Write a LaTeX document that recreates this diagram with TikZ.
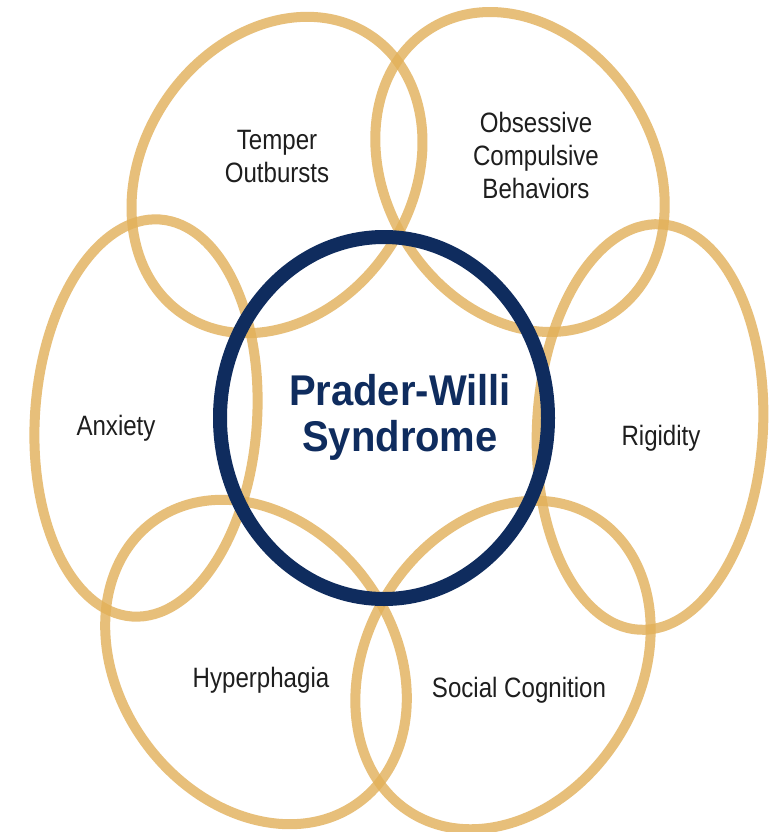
\documentclass[tikz,border=0pt]{standalone}
\usepackage{fontspec}
\setmainfont{Liberation Sans}
\newfontfamily\lblfont[FakeStretch=0.86]{Liberation Sans}
\newfontfamily\titlefont[FakeStretch=0.93]{Liberation Sans}
\definecolor{gold}{HTML}{E2B059}
\definecolor{navy}{HTML}{0F2C5E}
\definecolor{txt}{HTML}{1E1E1E}
\tikzset{
  ring/.style={draw=gold, line width=10pt, draw opacity=0.8},
  core/.style={draw=navy, line width=14pt},
  lbl/.style={font=\lblfont\fontsize{28}{33}\selectfont, text=txt, align=center, inner sep=0pt},
  ttl/.style={font=\titlefont\bfseries\fontsize{43}{46}\selectfont, text=navy, align=center, inner sep=0pt}
}
\begin{document}
\begin{tikzpicture}[x=1pt,y=-1pt]
\useasboundingbox[fill=white] (0,0) rectangle (774,832);
% gold ellipses
\draw[ring, rotate around={-34:(277,175)}] (277,175) ellipse [x radius=134pt, y radius=168pt];
\draw[ring, rotate around={32:(520,172)}] (520,172) ellipse [x radius=134pt, y radius=169pt];
\draw[ring, rotate around={-4:(146,418)}] (146,418) ellipse [x radius=111pt, y radius=199pt];
\draw[ring, rotate around={-3:(650,427)}] (650,427) ellipse [x radius=113pt, y radius=203pt];
\draw[ring, rotate around={36:(256,662)}] (256,662) ellipse [x radius=137pt, y radius=174pt];
\draw[ring, rotate around={-32:(503,665)}] (503,665) ellipse [x radius=136pt, y radius=174pt];
% central
\draw[core] (384,418) ellipse [x radius=164pt, y radius=181pt];
% labels
\node[lbl] (temper) at (277,157) {Temper\\Outbursts};
\node[lbl] (ocb) at (536,155) {Obsessive\\Compulsive\\Behaviors};
\node[lbl] (anx) at (116,428) {Anxiety};
\node[lbl] (rig) at (661,438) {Rigidity};
\node[lbl] (hyp) at (261,680) {Hyperphagia};
\node[lbl] (soc) at (519,690) {Social Cognition};
\node[ttl] (pws) at (400,417) {Prader-Willi\\Syndrome};
\end{tikzpicture}
\end{document}
